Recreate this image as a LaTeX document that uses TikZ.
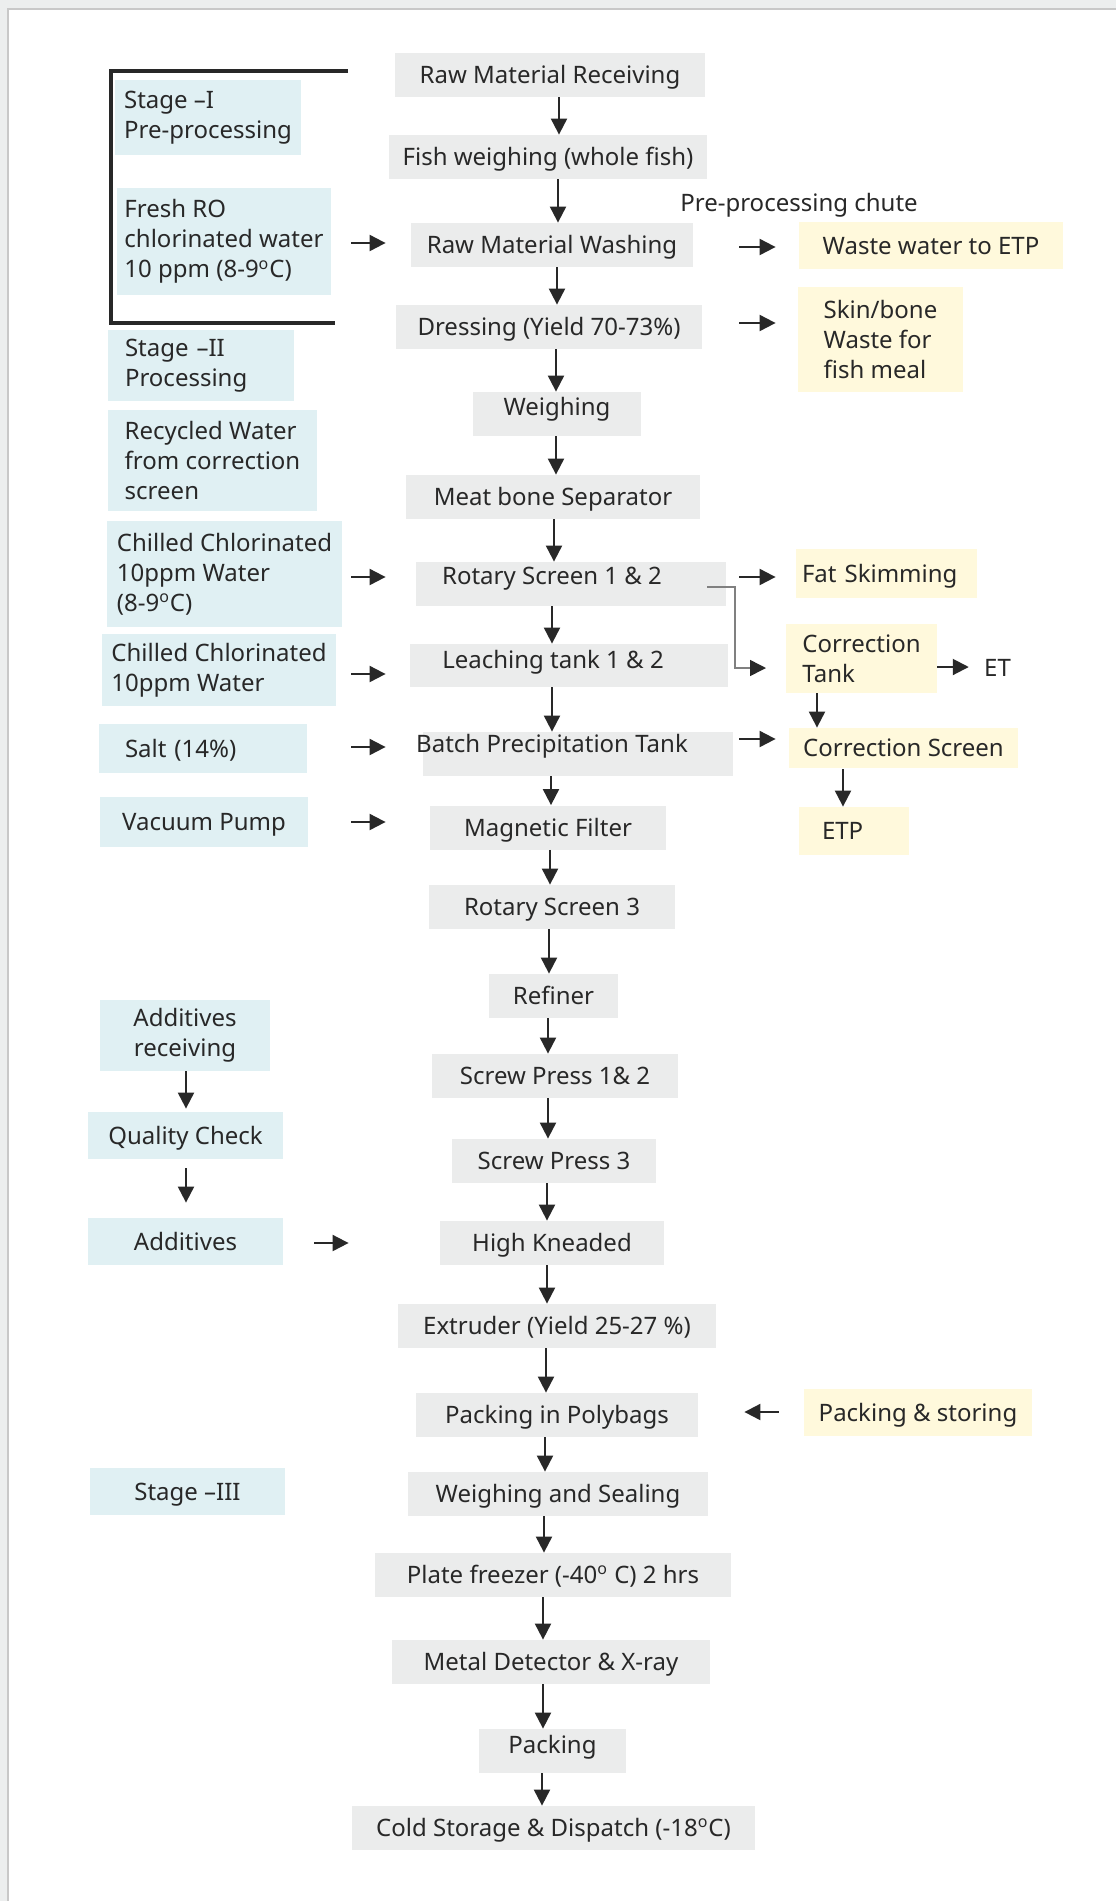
\documentclass[tikz,border=0pt]{standalone}
\usepackage{fontspec}
\setmainfont{Noto Sans}
\usetikzlibrary{arrows.meta}

\definecolor{procgray}{RGB}{235,236,236}
\definecolor{inblue}{RGB}{224,240,243}
\definecolor{outyellow}{RGB}{255,249,220}
\definecolor{inkdark}{RGB}{40,40,40}
\definecolor{pagegray}{RGB}{236,238,238}
\definecolor{edgegray}{RGB}{200,200,200}
\definecolor{linkgray}{RGB}{128,128,128}

\tikzset{
  txt/.style={inner sep=0pt, text height=8.6pt, text depth=0pt},
  procbox/.style={txt, fill=procgray, minimum height=22pt},
  feedbox/.style={fill=inblue, inner sep=0pt, align=left},
  outbox/.style={fill=outyellow, inner sep=0pt, align=left},
  arr/.style={draw=inkdark, line width=1pt, -{Triangle[length=8pt,width=8pt]}},
}

\begin{document}
\begin{tikzpicture}[x=0.5pt, y=-0.5pt, font=\fontsize{12}{15}\selectfont, text=inkdark]
  \useasboundingbox (0,0) rectangle (1116,1901);
  \fill[pagegray] (0,0) rectangle (1116,1901);
  \fill[white] (8,9) rectangle (1116,1901);
  \draw[edgegray, line width=0.75pt] (8,1901) |- (1116,9);

  % main line
  \node[procbox, minimum width=155pt] (recv) at (550,75) {Raw Material Receiving};
  \node[procbox, minimum width=159pt] (fishw) at (548,157) {Fish weighing (whole fish)};
  \node[procbox, minimum width=141pt] (wash) at (552,245) {Raw Material Washing};
  \node[procbox, minimum width=153pt] (dress) at (549,327) {Dressing (Yield 70-73\%)};
  \node[procbox, minimum width=84pt, text depth=7pt] (weigh) at (557,414) {Weighing};
  \node[procbox, minimum width=147pt] (mbs) at (553,497) {Meat bone Separator};
  \node[procbox, minimum width=155pt] (rs12) at (571,584) {};
  \node[txt] (rs12txt) at (552,575.5) {Rotary Screen 1 \& 2};
  \node[procbox, minimum width=159pt, minimum height=21.5pt] (leach) at (569,665.5) {};
  \node[txt] (leachtxt) at (553,659.5) {Leaching tank 1 \& 2};
  \node[procbox, minimum width=155pt] (batch) at (578,754) {};
  \node[txt] (batchtxt) at (552,743.5) {Batch Precipitation Tank};
  \node[procbox, minimum width=118pt] (magf) at (548,827.5) {Magnetic Filter};
  \node[procbox, minimum width=123pt] (rs3) at (552,907) {Rotary Screen 3};
  \node[procbox, minimum width=64.5pt] (refiner) at (553.5,996) {Refiner};
  \node[procbox, minimum width=123pt] (sp12) at (555,1076) {Screw Press 1\& 2};
  \node[procbox, minimum width=102pt] (sp3) at (554,1161) {Screw Press 3};
  \node[procbox, minimum width=112pt] (knead) at (552,1243) {High Kneaded};
  \node[procbox, minimum width=159pt] (extr) at (557,1326) {Extruder (Yield 25-27 \%)};
  \node[procbox, minimum width=141pt] (poly) at (557,1415) {Packing in Polybags};
  \node[procbox, minimum width=150pt] (seal) at (558,1494) {Weighing and Sealing};
  \node[procbox, minimum width=178pt] (plate) at (553,1575) {Plate freezer (-40\textsuperscript{o} C) 2 hrs};
  \node[procbox, minimum width=159pt] (metal) at (551,1662) {Metal Detector \& X-ray};
  \node[procbox, minimum width=73.5pt, text depth=6.5pt] (pack) at (552.5,1751) {Packing};
  \node[procbox, minimum width=201.5pt] (cold) at (553.5,1828) {Cold Storage \& Dispatch (-18\textsuperscript{o}C)};

  % inputs
  \node[feedbox, minimum width=93pt, minimum height=37.5pt] (stage1) at (208,117.5) {Stage --I\\Pre-processing};
  \node[feedbox, minimum width=107pt, minimum height=53.5pt] (fresh) at (224,241.5) {Fresh RO\\chlorinated water\\10 ppm (8-9\textsuperscript{o}C)};
  \node[feedbox, minimum width=93pt, minimum height=35.5pt, text width=76pt] (stage2) at (201,365.5) {Stage --II\\Processing};
  \node[feedbox, minimum width=104.5pt, minimum height=50.5pt] (recyc) at (212.5,460.5) {Recycled Water\\from correction\\screen};
  \node[feedbox, minimum width=117.5pt, minimum height=53pt] (chill1) at (224.5,574) {Chilled Chlorinated\\10ppm Water\\(8-9\textsuperscript{o}C)};
  \node[feedbox, minimum width=117pt, minimum height=36pt] (chill2) at (219,670) {Chilled Chlorinated\\10ppm Water};
  \node[feedbox, txt, minimum width=104pt, minimum height=24.5pt, text width=78pt] (salt) at (203,748.5) {Salt (14\%)};
  \node[feedbox, txt, minimum width=104pt, minimum height=25pt] (vacuum) at (204,822) {Vacuum Pump};
  \node[feedbox, align=center, minimum width=85pt, minimum height=35.5pt] (addrec) at (185,1035.5) {Additives\\receiving};
  \node[feedbox, txt, minimum width=97.5pt, minimum height=23.5pt] (qc) at (185.5,1135.5) {Quality Check};
  \node[feedbox, txt, minimum width=97.5pt, minimum height=23.5pt] (addv) at (185.5,1241.5) {Additives};
  \node[feedbox, txt, minimum width=97.5pt, minimum height=23.5pt] (stage3) at (187.5,1491.5) {Stage --III};

  % outputs
  \node[txt] (chute) at (799,203) {Pre-processing chute};
  \node[outbox, txt, minimum width=132pt, minimum height=23.5pt] (wastew) at (931,245.5) {Waste water to ETP};
  \node[outbox, minimum width=82.5pt, minimum height=52.5pt] (skin) at (880.5,339.5) {Skin/bone\\Waste for\\fish meal};
  \node[outbox, txt, minimum width=90.5pt, minimum height=24.5pt, text width=84.5pt] (fat) at (886.5,573.5) {Fat Skimming};
  \node[outbox, minimum width=75.5pt, minimum height=34.5pt] (corrtank) at (861.5,658.5) {Correction\\Tank};
  \node[txt] (et) at (997.5,668) {ET};
  \node[outbox, txt, minimum width=114.5pt, minimum height=20pt] (corrscr) at (903.5,748) {Correction Screen};
  \node[outbox, txt, minimum width=55pt, minimum height=24pt, text width=32pt] (etp) at (854,831) {ETP};
  \node[outbox, txt, minimum width=114pt, minimum height=23.5pt] (packst) at (918,1412.5) {Packing \& storing};

  % stage I bracket
  \draw[inkdark, line width=2pt] (348,71) -| (111,323) -- (335,323);

  % main flow
  \draw[arr] (recv.south -| 559,0) -- (fishw.north -| 559,0);
  \draw[arr] (fishw.south -| 558,0) -- (wash.north -| 558,0);
  \draw[arr] (wash.south -| 557,0) -- (dress.north -| 557,0);
  \draw[arr] (dress.south -| 556,0) -- (weigh.north -| 556,0);
  \draw[arr] (weigh.south -| 556,0) -- (mbs.north -| 556,0);
  \draw[arr] (mbs.south -| 554,0) -- (rs12.north -| 554,0);
  \draw[arr] (rs12.south -| 552,0) -- (leach.north -| 552,0);
  \draw[arr] (leach.south -| 552,0) -- (batch.north -| 552,0);
  \draw[arr] (batch.south -| 551,0) -- (magf.north -| 551,0);
  \draw[arr] (magf.south -| 550,0) -- (rs3.north -| 550,0);
  \draw[arr] (rs3.south -| 549,0) -- (refiner.north -| 549,0);
  \draw[arr] (refiner.south -| 548,0) -- (sp12.north -| 548,0);
  \draw[arr] (sp12.south -| 548,0) -- (sp3.north -| 548,0);
  \draw[arr] (sp3.south -| 547,0) -- (knead.north -| 547,0);
  \draw[arr] (knead.south -| 547,0) -- (extr.north -| 547,0);
  \draw[arr] (extr.south -| 546,0) -- (poly.north -| 546,0);
  \draw[arr] (poly.south -| 545,0) -- (seal.north -| 545,0);
  \draw[arr] (seal.south -| 544,0) -- (plate.north -| 544,0);
  \draw[arr] (plate.south -| 543,0) -- (metal.north -| 543,0);
  \draw[arr] (metal.south -| 543,0) -- (pack.north -| 543,0);
  \draw[arr] (pack.south -| 542,0) -- (cold.north -| 542,0);

  % feeds in
  \draw[arr, shorten <=10pt, shorten >=12.5pt] (fresh.east |- 0,243) -- (wash.west |- 0,243);
  \draw[arr, shorten <=4.5pt, shorten >=15pt] (chill1.east |- 0,577) -- (rs12.west |- 0,577);
  \draw[arr, shorten <=7.5pt, shorten >=12pt] (chill2.east |- 0,674) -- (leach.west |- 0,674);
  \draw[arr, shorten <=22pt, shorten >=18.5pt] (salt.east |- 0,747) -- (batch.west |- 0,747);
  \draw[arr, shorten <=21.5pt, shorten >=22pt] (vacuum.east |- 0,822) -- (magf.west |- 0,822);
  \draw[arr, shorten >=1.5pt] (addrec.south -| 186,0) -- (qc.north -| 186,0);
  \draw[arr, shorten <=4.5pt, shorten >=7.5pt] (qc.south -| 186,0) -- (addv.north -| 186,0);
  \draw[arr, shorten <=15.5pt, shorten >=45.5pt] (addv.east |- 0,1243) -- (knead.west |- 0,1243);

  % outputs
  \draw[arr, shorten <=23pt, shorten >=11.5pt] (wash.east |- 0,247) -- (wastew.west |- 0,247);
  \draw[arr, shorten <=18.5pt, shorten >=11pt] (dress.east |- 0,323) -- (skin.west |- 0,323);
  \draw[arr, shorten <=6.5pt, shorten >=10pt] (rs12.east |- 0,577) -- (fat.west |- 0,577);
  \coordinate (tap) at (707,587);
  \coordinate (ctin) at (766,668);
  \draw[linkgray, line width=0.75pt, -{Triangle[length=8pt,width=8pt,color=inkdark]}] (tap) -- ++(28,0) |- (ctin);
  \draw[arr, shorten >=7.5pt] (corrtank.east |- 0,667) -- (et.west |- 0,667);
  \draw[arr] (corrtank.south -| 817,0) -- (corrscr.north -| 817,0);
  \draw[arr, shorten <=3pt, shorten >=6.5pt] (batch.east |- 0,739) -- (corrscr.west |- 0,739);
  \draw[arr, shorten <=0.5pt] (corrscr.south -| 843,0) -- (etp.north -| 843,0);
  \draw[arr, shorten <=12.5pt, shorten >=23pt] (packst.west |- 0,1412) -- (poly.east |- 0,1412);
\end{tikzpicture}
\end{document}
